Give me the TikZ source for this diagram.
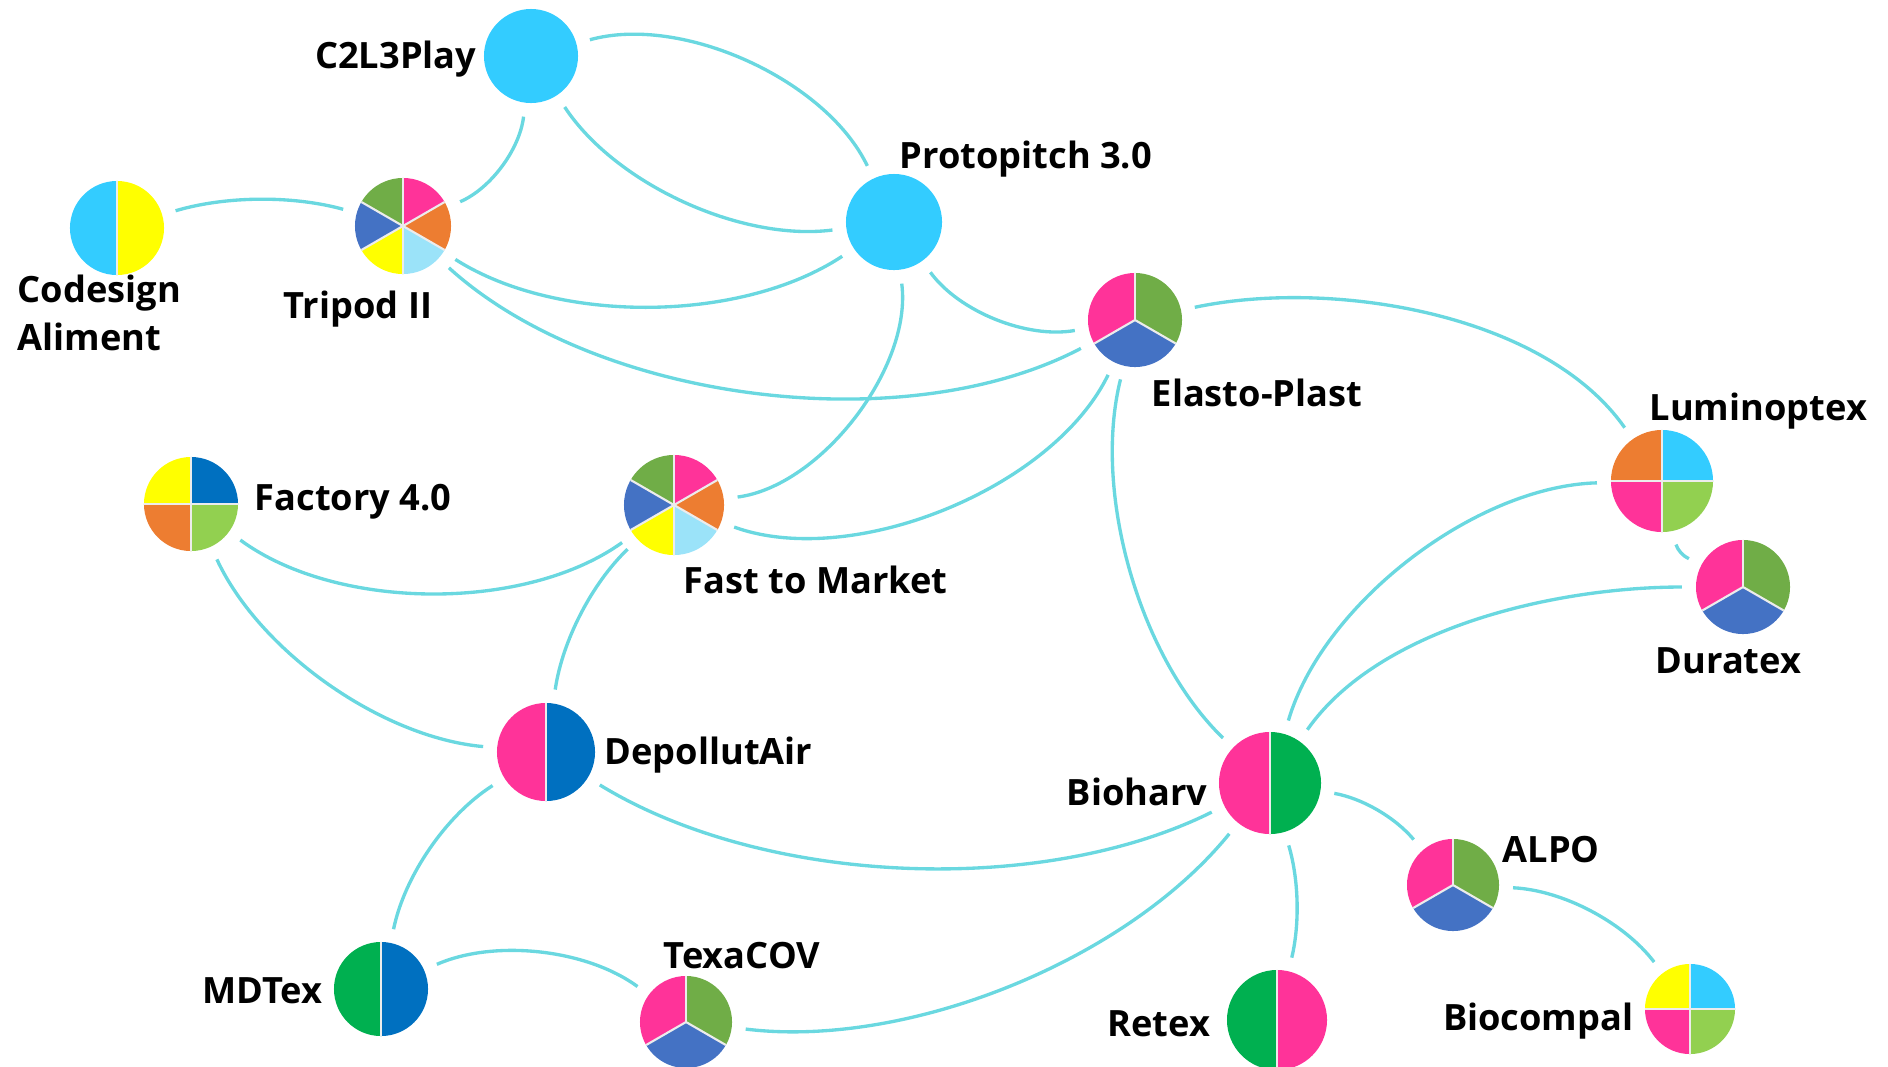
\documentclass[tikz,border=0pt]{standalone}
\usepackage{fontspec}
\setmainfont{Open Sans}
\usetikzlibrary{positioning}

\definecolor{edgecol}{HTML}{6AD8E0}
\definecolor{skyblue}{HTML}{33CCFF}
\definecolor{pinkc}{HTML}{FF3399}
\definecolor{orangec}{HTML}{ED7D31}
\definecolor{paleblue}{HTML}{9BE3F9}
\definecolor{yellowc}{HTML}{FFFF00}
\definecolor{bluec}{HTML}{4472C4}
\definecolor{greenc}{HTML}{70AD47}
\definecolor{limec}{HTML}{92D050}
\definecolor{navyc}{HTML}{0070C0}
\definecolor{emerald}{HTML}{00B050}

\tikzset{
  proj/.style={circle, inner sep=0pt, outer sep=4pt, minimum size=#1},
  proj/.default=0.96cm,
  sep/.style={draw=white!85!gray, line width=0.6pt},
  % n slices, start angle, colours clockwise
  pie/.style n args={3}{path picture={
      \foreach \c [count=\i from 0] in {#3}
        \fill[\c] (path picture bounding box.center) -- ++({#2-\i*360/#1}:60pt)
          arc[start angle={#2-\i*360/#1}, delta angle={-360/#1}, radius=60pt] -- cycle;
      \foreach \i in {1,...,#1}
        \draw[sep] (path picture bounding box.center) -- ++({#2-\i*360/#1}:60pt);
    }},
  link/.style={draw=edgecol, line width=0.95pt, looseness=0.8},
  lbl/.style={font=\bfseries\fontsize{10.3}{13.7}\selectfont, inner sep=0pt}
}

\begin{document}
\begin{tikzpicture}[x=0.01cm, y=-0.01cm]
  \useasboundingbox (0,0) rectangle (1888,1066);

  % projects
  \node[proj=0.94cm, fill=skyblue] (c2l3) at (531,56) {};
  \node[proj, fill=skyblue] (proto) at (894,222) {};
  \node[proj=0.94cm, pie={2}{90}{yellowc,skyblue}] (codes) at (117,228) {};
  \node[proj, pie={6}{90}{pinkc,orangec,paleblue,yellowc,bluec,greenc}] (tripod) at (403,226) {};
  \node[proj=0.94cm, pie={3}{90}{greenc,bluec,pinkc}] (elasto) at (1135,320) {};
  \node[proj=1.02cm, pie={4}{90}{skyblue,limec,pinkc,orangec}] (lumin) at (1662,481) {};
  \node[proj=0.94cm, pie={3}{90}{greenc,bluec,pinkc}] (dura) at (1743,587) {};
  \node[proj=0.94cm, pie={4}{90}{navyc,limec,orangec,yellowc}] (factory) at (191,504) {};
  \node[proj=1.0cm, pie={6}{90}{pinkc,orangec,paleblue,yellowc,bluec,greenc}] (fast) at (674,505) {};
  \node[proj=0.98cm, pie={2}{90}{navyc,pinkc}] (depol) at (546,752) {};
  \node[proj=1.02cm, pie={2}{90}{emerald,pinkc}] (biohv) at (1270,783) {};
  \node[proj=0.92cm, pie={3}{90}{greenc,bluec,pinkc}] (alpo) at (1453,885) {};
  \node[proj=0.94cm, pie={2}{90}{navyc,emerald}] (mdtex) at (381,989) {};
  \node[proj=0.92cm, pie={3}{90}{greenc,bluec,pinkc}] (texa) at (686,1022) {};
  \node[proj=1.0cm, pie={2}{90}{pinkc,emerald}] (retex) at (1277,1020) {};
  \node[proj=0.9cm, pie={4}{90}{skyblue,limec,pinkc,yellowc}] (biocp) at (1690,1009) {};

  % labels
  \node[lbl, anchor=base east] (c2l3-t) at (477,68) {C2L3Play};
  \node[lbl, anchor=base west] (proto-t) at (899,168) {Protopitch 3.0};
  \node[lbl, anchor=north west, align=left] (codes-t) at (17,274) {Codesign\\Aliment};
  \node[lbl, anchor=base west] (tripod-t) at (283,318) {Tripod II};
  \node[lbl, anchor=base west] (elasto-t) at (1151,406) {Elasto-Plast};
  \node[lbl, anchor=base west] (lumin-t) at (1649,420) {Luminoptex};
  \node[lbl, anchor=base west] (dura-t) at (1655,673) {Duratex};
  \node[lbl, anchor=base west] (factory-t) at (254,510) {Factory 4.0};
  \node[lbl, anchor=base west] (fast-t) at (683,593) {Fast to Market};
  \node[lbl, anchor=base west] (depol-t) at (604,764) {DepollutAir};
  \node[lbl, anchor=base east] (biohv-t) at (1208,805) {Bioharv};
  \node[lbl, anchor=base west] (alpo-t) at (1502,862) {ALPO};
  \node[lbl, anchor=base east] (mdtex-t) at (323,1003) {MDTex};
  \node[lbl, anchor=base west] (texa-t) at (663,968) {TexaCOV};
  \node[lbl, anchor=base east] (retex-t) at (1211,1036) {Retex};
  \node[lbl, anchor=base east] (biocp-t) at (1634,1030) {Biocompal};

  % links
  \draw[link] (c2l3) to[bend left=40] (proto);
  \draw[link] (c2l3) to[bend right=32] (proto);
  \draw[link] (codes) to[bend left=16] (tripod);
  \draw[link] (tripod) to[bend right=30] (c2l3);
  \draw[link] (tripod) to[bend right=33] (proto);
  \draw[link] (tripod) to[bend right=35] (elasto);
  \draw[link] (proto) to[bend left=45] (fast);
  \draw[link] (proto) to[bend right=32] (elasto);
  \draw[link] (fast) to[bend right=42] (elasto);
  \draw[link] (factory) to[bend right=36] (fast);
  \draw[link] (factory) to[bend right=30] (depol);
  \draw[link] (fast) to[bend right=19] (depol);
  \draw[link] (depol) to[bend right=29] (biohv);
  \draw[link] (depol) to[bend right=23] (mdtex);
  \draw[link] (mdtex) to[bend left=30] (texa);
  \draw[link] (texa) to[bend right=29] (biohv);
  \draw[link] (elasto) to[bend right=30] (biohv);
  \draw[link] (elasto) to[out=12, in=125] (lumin);
  \draw[link] (lumin) to[bend right=36] (biohv);
  \draw[link] (dura) to[out=180, in=55] (biohv);
  \draw[link] (lumin) to[bend right=25] (dura);
  \draw[link] (biohv) to[bend left=20] (alpo);
  \draw[link] (biohv) to[bend left=15] (retex);
  \draw[link] (alpo) to[bend left=25] (biocp);
\end{tikzpicture}
\end{document}
